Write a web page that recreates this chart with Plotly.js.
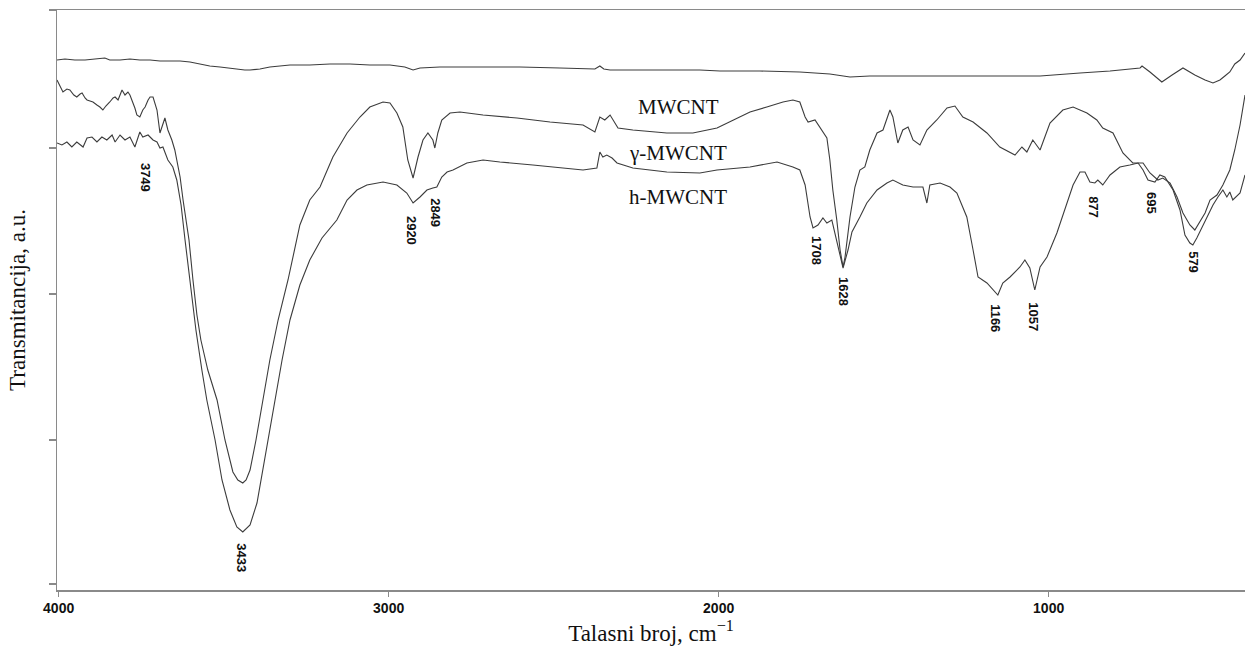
<!DOCTYPE html>
<html>
<head>
<meta charset="utf-8">
<script src="https://cdn.plot.ly/plotly-3.0.1.min.js"></script>
<style>html,body{margin:0;padding:0;background:#fff;}#chart{width:1245px;height:651px;}</style>
</head>
<body>
<div id="chart"></div>
<script>
// Wavenumber (cm^-1) and transmittance (a.u.)
const wnA = [4005,3981,3951,3920,3890,3860,3845,3814,3784,3754,3723,3693,3663,3632,3602,3572,3542,3511,3466,3436,3420,3390,3360,3329,3299,3239,3178,3117,3057,2996,2951,2926,2905,2845,2723,2602,2481,2375,2360,2348,2329,2208,2057,1996,1875,1754,1663,1602,1542,1451,1299,1148,1026,905,814,723,717,693,657,626,593,557,526,502,481,466,451,436,420,405];
const tA  = [530,531,530,530,531,532,530,530,531,530,530,529,529,529,528,526,524,523,521,520,520,521,523,524,525,525,526,526,525,525,523,520,522,523,523,523,522,521,524,521,520,520,520,519,519,518,516,513,514,514,514,514,514,517,519,522,524,518,508,515,522,515,510,507,510,514,518,526,530,537];

const wnB = [4005,3996,3987,3975,3966,3954,3945,3935,3929,3920,3914,3905,3896,3884,3875,3866,3857,3845,3835,3829,3820,3814,3808,3799,3790,3784,3778,3769,3763,3754,3745,3738,3729,3723,3714,3708,3702,3693,3684,3678,3669,3657,3648,3642,3632,3623,3614,3605,3593,3581,3569,3548,3520,3496,3472,3457,3442,3432,3420,3402,3381,3360,3335,3305,3269,3239,3208,3169,3126,3087,3057,3017,2996,2975,2957,2942,2926,2911,2896,2881,2866,2860,2851,2839,2814,2784,2714,2611,2511,2411,2375,2360,2345,2329,2305,2260,2157,2078,2005,1957,1905,1854,1805,1775,1754,1738,1729,1708,1693,1672,1663,1654,1642,1632,1623,1617,1602,1587,1572,1557,1542,1520,1502,1481,1472,1457,1442,1426,1411,1390,1369,1339,1308,1284,1260,1229,1187,1148,1102,1081,1066,1048,1026,996,957,926,884,854,836,805,775,745,714,693,669,654,632,611,593,572,557,542,526,511,490,472,451,436,420,405];
const tB  = [510,504,498,501,500,495,493,496,497,492,490,489,488,485,483,480,484,488,492,493,490,495,500,495,498,495,490,482,475,473,480,483,490,493,493,487,480,457,465,472,460,450,440,430,413,390,370,350,310,275,250,220,190,150,118,110,107,110,120,150,190,230,270,310,365,390,403,433,457,473,483,488,487,477,463,430,412,433,450,457,450,442,457,470,477,478,475,472,468,465,458,473,470,475,462,460,457,457,462,470,478,483,488,490,488,473,468,470,463,452,430,400,370,340,323,333,373,403,420,423,440,457,460,480,473,447,460,463,450,445,460,470,482,484,473,468,457,443,435,443,438,450,440,467,480,483,477,470,462,457,437,427,427,417,410,412,407,393,377,365,360,368,377,390,395,405,420,440,465,495];

const wnC = [4005,3990,3975,3960,3945,3926,3914,3899,3884,3869,3854,3838,3829,3814,3799,3784,3769,3754,3745,3729,3714,3702,3693,3684,3669,3654,3642,3629,3617,3602,3584,3566,3551,3526,3505,3481,3460,3442,3420,3399,3381,3360,3345,3323,3299,3269,3239,3202,3157,3126,3096,3066,3017,2975,2945,2926,2905,2884,2866,2854,2839,2823,2805,2763,2714,2663,2563,2460,2411,2369,2360,2351,2339,2323,2308,2260,2157,2057,2005,1905,1823,1775,1754,1738,1723,1714,1699,1684,1672,1657,1642,1623,1608,1596,1572,1551,1520,1490,1472,1442,1411,1381,1369,1360,1329,1299,1278,1248,1229,1214,1187,1169,1154,1139,1117,1087,1072,1057,1042,1026,1005,975,945,926,905,890,875,860,851,836,814,784,754,729,714,699,678,663,648,623,602,587,572,563,551,542,520,502,487,472,460,451,442,420,405];
const tC  = [447,445,448,443,448,443,452,453,448,453,450,455,448,455,450,453,443,458,453,455,450,448,442,443,430,423,410,385,350,310,260,220,190,150,110,80,63,58,65,87,120,160,190,230,270,305,330,352,370,390,400,405,408,405,397,387,393,400,402,403,413,418,420,427,430,428,425,422,420,422,438,433,435,432,427,422,418,417,420,423,428,423,420,405,373,362,365,372,367,370,350,322,340,358,373,387,400,407,410,405,403,403,387,405,407,403,397,373,340,313,307,300,295,307,313,323,330,322,300,323,333,357,387,405,418,418,408,407,410,405,415,423,425,427,420,410,408,415,413,400,380,355,347,345,352,358,372,385,393,400,393,398,390,397,415];

// Peak labels and their positions (wavenumber, a.u.)
const peakText = ['3749','3433','2920','2849','1708','1628','1166','1057','877','695','579'];
const peakWn   = [3735,3445,2929,2857,1702,1620,1160,1045,863,687,560];
const peakT    = [413,32,360,377,339,299,272,273,383,387,328];

// Sample names and their label positions
const sampleText = ['MWCNT','γ-MWCNT','h-MWCNT'];
const sampleWn   = [2123,2123,2123];
const sampleT    = [483,437,393];

const xTicks = [4000,3000,2000,1000];
const yTicks = [6,150,296,442,580];

const lineStyle = {color:'#3c3c3c', width:1.1};
const traces = [
  {x:wnA, y:tA, mode:'lines', line:lineStyle, name:'A'},
  {x:wnB, y:tB, mode:'lines', line:lineStyle, name:'B'},
  {x:wnC, y:tC, mode:'lines', line:lineStyle, name:'C'}
];

const annotations = [];
peakText.forEach((t,i)=>annotations.push({
  x:peakWn[i], y:peakT[i], xref:'x', yref:'y', text:'<b>'+t+'</b>', showarrow:false, textangle:90,
  font:{family:'Liberation Sans, Arial, sans-serif', size:13, color:'#111'}
}));
sampleText.forEach((t,i)=>annotations.push({
  x:sampleWn[i], y:sampleT[i], xref:'x', yref:'y', text:t, showarrow:false,
  font:{family:'Liberation Serif, Times New Roman, serif', size:21, color:'#111'}
}));

const layout = {
  width:1245, height:651,
  margin:{l:57, r:0, t:10, b:61},
  paper_bgcolor:'#fff', plot_bgcolor:'#fff',
  showlegend:false,
  xaxis:{
    range:[4005,405], tickvals:xTicks, ticktext:xTicks.map(v=>'<b>'+v+'</b>'),
    ticks:'outside', ticklen:5, tickwidth:1.3, tickcolor:'#8a8a8a',
    showline:true, linecolor:'#8a8a8a', linewidth:1.5, mirror:true,
    showgrid:false, zeroline:false,
    tickfont:{family:'Liberation Sans, Arial, sans-serif', size:14, color:'#111'},
    title:{text:'Talasni broj, cm<sup>−1</sup>', font:{family:'Liberation Serif, Times New Roman, serif', size:23, color:'#111'}, standoff:9}
  },
  yaxis:{
    range:[0,580], tickvals:yTicks, showticklabels:false,
    ticks:'outside', ticklen:7, tickwidth:1.3, tickcolor:'#8a8a8a',
    showline:true, linecolor:'#8a8a8a', linewidth:1.5,
    showgrid:false, zeroline:false,
    title:{text:'Transmitancija, a.u.', font:{family:'Liberation Serif, Times New Roman, serif', size:23, color:'#111'}, standoff:16}
  },
  annotations:annotations
};

Plotly.newPlot('chart', traces, layout, {displayModeBar:false, staticPlot:true});
</script>
</body>
</html>
